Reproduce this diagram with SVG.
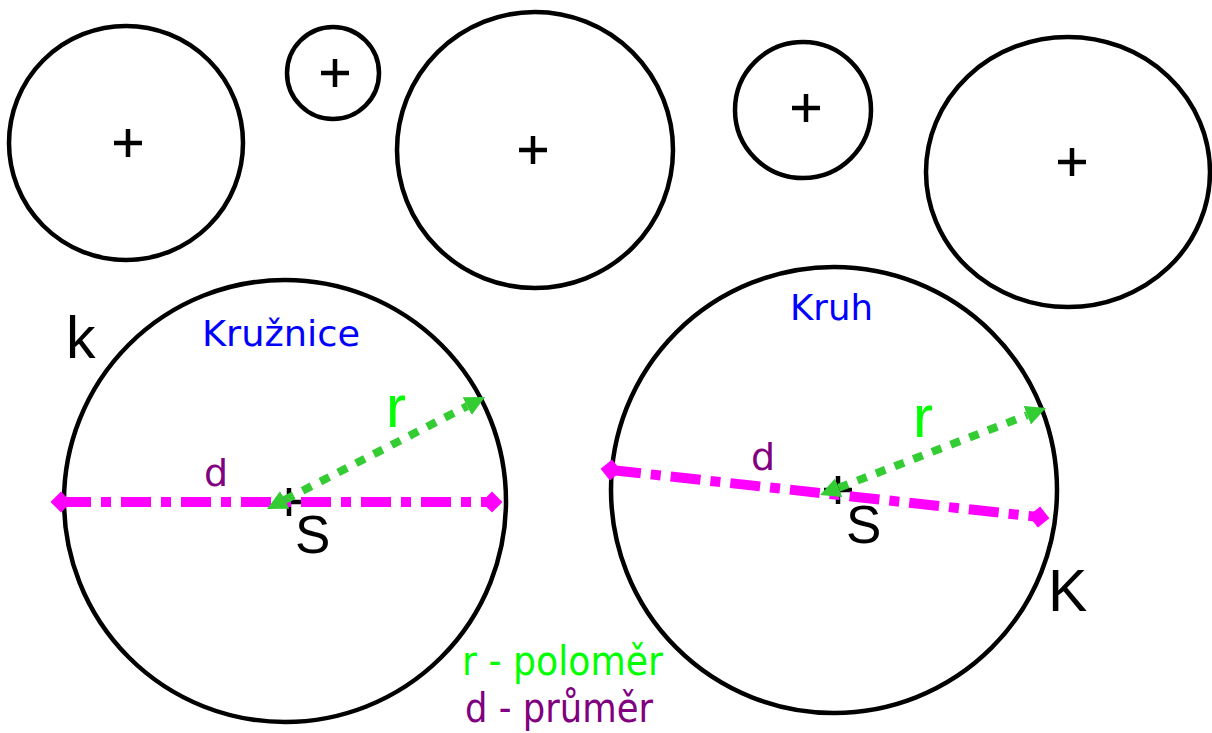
<svg xmlns="http://www.w3.org/2000/svg" width="1212" height="733" viewBox="0 0 1212 733">
<style>
.c{fill:none;stroke:#000;stroke-width:4.5}
.p{stroke:#000;stroke-width:4.5;fill:none}
.dia{fill:none;stroke:#FF00FF;stroke-width:10;stroke-dasharray:30 10 10 10}
.rad{fill:none;stroke:#33CC33;stroke-width:8;stroke-dasharray:10 10}
.lbl{font-family:"Liberation Sans",Arial,sans-serif}
.hand{font-family:"DejaVu Sans","Noto Sans",sans-serif}
.blk{fill:#000}
.grn{fill:#00FF00}
.pur{fill:#800080}
.blu{fill:#0000FF}
</style>
<defs>
<marker id="ah" viewBox="0 0 20 20" refX="0" refY="10" markerWidth="20" markerHeight="20" markerUnits="userSpaceOnUse" orient="auto-start-reverse">
<path d="M0,0 L20,10 L0,20 z" fill="#33CC33"/>
</marker>
<marker id="dm" viewBox="-12 -12 24 24" refX="0" refY="0" markerWidth="24" markerHeight="24" markerUnits="userSpaceOnUse" orient="auto">
<path d="M-10.5,0 L0,-10.5 L10.5,0 L0,10.5 z" fill="#FF00FF"/>
</marker>
</defs>
<rect width="1212" height="733" fill="#fff"/>
<g id="circle1"><circle class="c" cx="126" cy="143" r="117"/><path class="p" d="M114,143 H142 M128,129 V157"/></g>
<g id="circle2"><circle class="c" cx="333" cy="73" r="46"/><path class="p" d="M321,73 H349 M335,59 V87"/></g>
<g id="circle3"><circle class="c" cx="535" cy="150" r="138"/><path class="p" d="M519,150 H547 M533,136 V164"/></g>
<g id="circle4"><circle class="c" cx="803" cy="110" r="68"/><path class="p" d="M792,108 H820 M806,94 V122"/></g>
<g id="circle5"><ellipse class="c" cx="1068" cy="172" rx="142" ry="135"/><path class="p" d="M1058,162 H1086 M1072,148 V176"/></g>
<g id="kruznice">
<circle class="c" cx="285" cy="501" r="221"/>
<path class="p" d="M275,502 H303 M289,488 V516"/>
<text class="hand blu" x="202" y="346" font-size="36" textLength="158" lengthAdjust="spacingAndGlyphs">Kružnice</text>
<text class="lbl blk" x="66" y="358" font-size="59">k</text>
<text class="lbl blk" x="295" y="553" font-size="53">S</text>
<text class="hand pur" x="204" y="486" font-size="38">d</text>
<text class="lbl grn" x="386" y="427" font-size="60">r</text>
</g>
<g id="kruh">
<circle class="c" cx="834" cy="490" r="223"/>
<path class="p" d="M824,490 H852 M838,476 V504"/>
<text class="hand blu" x="790" y="320" font-size="36" textLength="83" lengthAdjust="spacingAndGlyphs">Kruh</text>
<text class="lbl blk" x="1048" y="611" font-size="59">K</text>
<text class="lbl blk" x="846" y="543" font-size="53">S</text>
<text class="hand pur" x="751" y="470" font-size="38">d</text>
<text class="lbl grn" x="913" y="437" font-size="60">r</text>
</g>
<g id="connectors">
<line class="dia" x1="61" y1="502" x2="492" y2="502" marker-start="url(#dm)" marker-end="url(#dm)"/>
<line class="dia" x1="611" y1="470" x2="1039" y2="517" marker-start="url(#dm)" marker-end="url(#dm)"/>
<line class="rad" x1="284.8" y1="499.9" x2="467.2" y2="406.1" marker-start="url(#ah)" marker-end="url(#ah)"/>
<line class="rad" x1="838.7" y1="487.8" x2="1027.3" y2="415.2" marker-start="url(#ah)" marker-end="url(#ah)"/>
</g>
<g id="legend">
<text class="hand grn" x="462" y="675" font-size="40" textLength="201" lengthAdjust="spacingAndGlyphs">r - poloměr</text>
<text class="hand pur" x="465" y="722" font-size="40" textLength="188" lengthAdjust="spacingAndGlyphs">d - průměr</text>
</g>
</svg>
